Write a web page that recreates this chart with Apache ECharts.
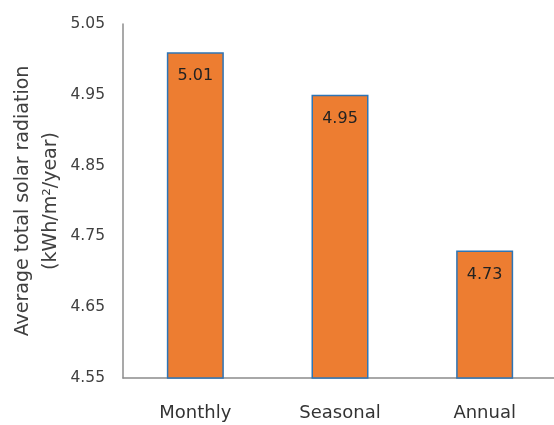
<!DOCTYPE html>
<html><head><meta charset="utf-8">
<script src="https://cdn.jsdelivr.net/npm/echarts@6/dist/echarts.min.js"></script>
<style>html,body{margin:0;padding:0;background:#fff}#c{width:554px;height:425px}</style>
</head><body><div id="c"></div>
<script>
const categories = ["Monthly", "Seasonal", "Annual"];
const values = [5.01, 4.95, 4.73];
const yMin = 4.55, yMax = 5.05, yStep = 0.1;
const yTitle = ["Average total solar radiation", "(kWh/m\u00B2/year)"];

const chart = echarts.init(document.getElementById('c'));
chart.setOption({
  animation: false,
  grid: { left: 123, top: 24, width: 434, bottom: 47, outerBoundsMode: 'none', containLabel: false },
  xAxis: {
    type: 'category', data: categories,
    axisLine: { lineStyle: { color: '#8c8c8c', width: 1.5 } },
    axisTick: { show: false },
    axisLabel: { color: '#333', fontFamily: 'DejaVu Sans', fontSize: 18, margin: 26 }
  },
  yAxis: {
    type: 'value', min: yMin, max: yMax, interval: yStep,
    axisLine: { show: true, lineStyle: { color: '#8c8c8c', width: 1.5 } },
    axisTick: { show: false },
    splitLine: { show: false },
    axisLabel: { color: '#404040', fontFamily: 'DejaVu Sans', fontSize: 15.5, margin: 18,
      formatter: v => v.toFixed(2) },
    name: yTitle.join('\n'), nameLocation: 'middle', nameGap: 58, nameRotate: 90,
    nameMoveOverlap: false,
    nameTextStyle: { color: '#404040', fontFamily: 'DejaVu Sans', fontSize: 19, lineHeight: 28 }
  },
  series: [{
    type: 'bar', data: values, barWidth: 57,
    itemStyle: { color: '#ED7D31', borderColor: '#2E75B6', borderWidth: 1.5 },
    label: { show: true, position: 'insideTop', distance: 16, color: '#222',
      fontFamily: 'DejaVu Sans', fontSize: 16, formatter: p => p.value.toFixed(2) }
  }]
});
</script></body></html>
